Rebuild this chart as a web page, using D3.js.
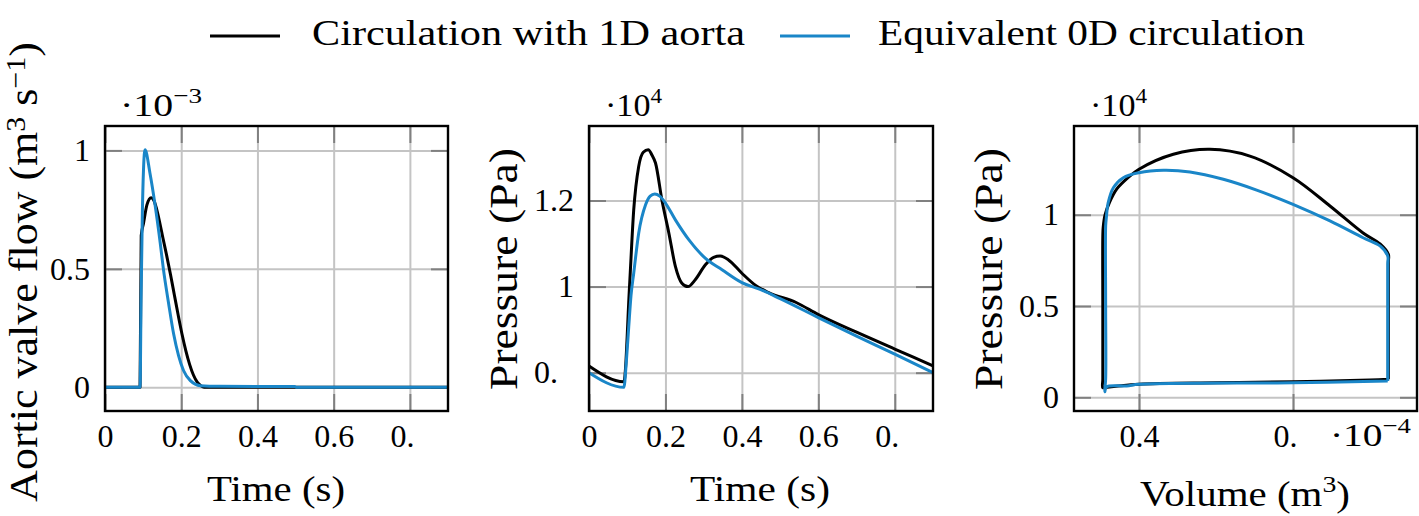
<!DOCTYPE html>
<html>
<head>
<meta charset="utf-8">
<script src="https://cdn.jsdelivr.net/npm/d3@7"></script>
<style>
  body { margin: 0; background: #fff; }
  svg { display: block; font-family: "Liberation Serif", "DejaVu Serif", serif; }
  .grid line { stroke: #c4c4c4; stroke-width: 2; }
  .marks line { stroke: #808080; stroke-width: 2; }
  .grid path, .marks path, .labels path, .labels line { display: none; }
  .labels text { font-family: "Liberation Serif", serif; font-size: 32px; fill: #000; }
  .frame { fill: none; stroke: #000; stroke-width: 2.4; }
  .curve { fill: none; stroke-width: 3; stroke-linejoin: round; }
</style>
</head>
<body>
<svg id="chart" width="1419" height="516"></svg>
<script>
// series
const seriesNames = ['Circulation with 1D aorta', 'Equivalent 0D circulation'];
const seriesColors = ['#000000', '#1a86c8'];

// aortic valve flow (x 1e-3 m^3/s) against time (s)
const flowTime1D = [0, 0.092, 0.095, 0.101, 0.110, 0.121, 0.128, 0.135, 0.143, 0.152, 0.162, 0.172, 0.182, 0.192, 0.202, 0.212, 0.222, 0.232, 0.242, 0.252, 0.260, 0.5, 0.9];
const flow1D     = [0, 0,     0.64,  0.692, 0.770, 0.800, 0.790, 0.755, 0.700, 0.630, 0.555, 0.475, 0.390, 0.305, 0.225, 0.155, 0.097, 0.052, 0.022, 0.006, 0,     0,   0];
const flowTime0D = [0, 0.092, 0.0947, 0.098, 0.101, 0.105, 0.118, 0.132, 0.145, 0.153, 0.167, 0.180, 0.193, 0.206, 0.224, 0.250, 0.300, 0.498, 0.503, 0.9];
const flow0D     = [0, 0,     0.38,   0.735, 0.918, 1.003, 0.904, 0.763, 0.608, 0.502, 0.353, 0.226, 0.134, 0.071, 0.028, 0.007, 0.004, 0.003, 0,     0];

// aortic pressure (x 1e4 Pa) against time (s)
const presTime1D = [0, 0.0913, 0.106, 0.117, 0.130, 0.142, 0.155, 0.165, 0.174, 0.191, 0.209, 0.226, 0.243, 0.259, 0.278, 0.304, 0.326, 0.343, 0.365, 0.400, 0.437, 0.470, 0.542, 0.600, 0.700, 0.800, 0.900];
const pres1D     = [0.8155, 0.779, 1.0, 1.178, 1.279, 1.312, 1.318, 1.305, 1.287, 1.200, 1.124, 1.047, 1.008, 1.000, 1.016, 1.050, 1.068, 1.071, 1.062, 1.031, 1.002, 0.986, 0.963, 0.935, 0.894, 0.855, 0.816];
const presTime0D = [0, 0.0913, 0.098, 0.104, 0.110, 0.117, 0.130, 0.148, 0.160, 0.172, 0.185, 0.200, 0.226, 0.261, 0.304, 0.348, 0.400, 0.446, 0.500, 0.600, 0.700, 0.800, 0.900];
const pres0D     = [0.800, 0.766, 0.830, 0.907, 0.980, 1.031, 1.124, 1.190, 1.210, 1.215, 1.210, 1.194, 1.155, 1.109, 1.066, 1.039, 1.009, 0.994, 0.972, 0.928, 0.885, 0.843, 0.800];

// left ventricle pressure-volume loop: volume (x 1e-4 m^3), pressure (x 1e4 Pa)
const pvVolume1D   = [0.7238, 0.7238, 0.7238, 0.7238, 0.7238, 0.713, 0.691, 0.648, 0.600, 0.544, 0.492, 0.4446, 0.400, 0.385, 0.371, 0.362, 0.356, 0.3535, 0.353, 0.353, 0.353, 0.353, 0.356, 0.370, 0.400, 0.500, 0.600, 0.700, 0.7238];
const pvPressure1D = [0.099,  0.140,  0.450,  0.740,  0.783,  0.840, 0.900, 1.048, 1.203, 1.321, 1.358, 1.331,  1.249, 1.200, 1.140, 1.070, 1.000, 0.930,  0.880, 0.500, 0.100, 0.053, 0.054, 0.060, 0.072, 0.080, 0.085, 0.095, 0.099];
const pvVolume0D   = [0.723, 0.723, 0.723, 0.723, 0.723, 0.713, 0.691, 0.648, 0.600, 0.5528, 0.5095, 0.4662, 0.4316, 0.400, 0.3796, 0.3667, 0.360, 0.3575, 0.3567, 0.3567, 0.3567, 0.3555, 0.358, 0.384, 0.400, 0.600, 0.723];
const pvPressure0D = [0.089, 0.130, 0.450, 0.730, 0.774, 0.829, 0.874, 0.966, 1.057, 1.135,  1.194,  1.234,  1.243,  1.230, 1.203,  1.148,  1.066, 0.980,  0.938,  0.500,  0.100,  0.030,  0.058, 0.062, 0.071, 0.080, 0.089];

// ticks
const timeTicks = [0, 0.2, 0.4, 0.6, 0.8];
const timeTickLabels = ['0', '0.2', '0.4', '0.6', '0.'];
const flowTicks = [0, 0.5, 1];
const flowTickLabels = ['0', '0.5', '1'];
const presTicks = [0.8, 1, 1.2];
const presTickLabels = ['0.', '1', '1.2'];
const volTicks = [0.4, 0.6];
const volTickLabels = ['0.4', '0.'];
const pvPresTicks = [0, 0.5, 1];
const pvPresTickLabels = ['0', '0.5', '1'];

const svg = d3.select('#chart');

// text with optional superscripts, stretched to a given width
function addText(g, parts, o) {
  const text = g.append('text')
      .attr('text-anchor', o.anchor || 'start')
      .style('font-size', o.size + 'px');
  const shift = o.size * (o.supShift || 0.4);
  let raised = false;
  parts.forEach(p => {
    const sup = typeof p === 'object';
    const ts = text.append('tspan').text(sup ? p.sup : p);
    if (sup) ts.style('font-size', (o.size * 0.68) + 'px');
    if (sup !== raised) {
      ts.attr('dy', sup ? -shift : shift);
      raised = sup;
    }
  });
  const w = text.node().getComputedTextLength();
  const sx = o.width ? o.width / w : 1;
  text.attr('transform', `translate(${o.x},${o.y}) rotate(${o.rotate || 0}) scale(${sx},1)`);
  return text;
}

class LinePanel {
  constructor(_config, _series) {
    this.config = _config;
    this.series = _series;
    this.initVis();
    this.renderVis();
  }

  initVis() {
    let vis = this;
    const c = vis.config;
    vis.width = c.right - c.left;
    vis.height = c.bottom - c.top;

    vis.xScale = d3.scaleLinear().domain(c.xDomain).range([0, vis.width]);
    vis.yScale = d3.scaleLinear().domain(c.yDomain).range([vis.height, 0]);

    vis.chart = svg.append('g')
        .attr('transform', `translate(${c.left},${c.top})`);

    // grid
    vis.chart.append('g').attr('class', 'grid')
        .attr('transform', `translate(0,${vis.height})`)
        .call(d3.axisBottom(vis.xScale).tickValues(c.xTicks).tickSize(-vis.height).tickFormat(''));
    vis.chart.append('g').attr('class', 'grid')
        .call(d3.axisLeft(vis.yScale).tickValues(c.yTicks).tickSize(-vis.width).tickFormat(''));

    // tick marks inside the box, on all four sides
    const tl = 17;
    vis.chart.append('g').attr('class', 'marks')
        .attr('transform', `translate(0,${vis.height})`)
        .call(d3.axisBottom(vis.xScale).tickValues(c.xTicks).tickSize(-tl).tickFormat(''));
    vis.chart.append('g').attr('class', 'marks')
        .call(d3.axisTop(vis.xScale).tickValues(c.xTicks).tickSize(-tl).tickFormat(''));
    vis.chart.append('g').attr('class', 'marks')
        .call(d3.axisLeft(vis.yScale).tickValues(c.yTicks).tickSize(-tl).tickFormat(''));
    vis.chart.append('g').attr('class', 'marks')
        .attr('transform', `translate(${vis.width},0)`)
        .call(d3.axisRight(vis.yScale).tickValues(c.yTicks).tickSize(-tl).tickFormat(''));

    // tick labels
    vis.xLab = vis.chart.append('g').attr('class', 'labels')
        .attr('transform', `translate(0,${vis.height})`)
        .call(d3.axisBottom(vis.xScale).tickValues(c.xTicks).tickSize(0).tickPadding(13)
            .tickFormat((d, i) => c.xTickLabels[i]));
    vis.xLab.selectAll('text').filter(function() { return this.textContent.endsWith('.'); })
        .attr('dx', '-0.25em');
    vis.yLab = vis.chart.append('g').attr('class', 'labels')
        .call(d3.axisLeft(vis.yScale).tickValues(c.yTicks).tickSize(0).tickPadding(15)
            .tickFormat((d, i) => c.yTickLabels[i]));
    vis.yLab.selectAll('text').filter(function() { return this.textContent.endsWith('.'); })
        .attr('dx', '-0.5em');

    vis.curves = vis.chart.append('g');

    vis.chart.append('rect').attr('class', 'frame')
        .attr('width', vis.width).attr('height', vis.height);

    // axis titles and scale factors
    addText(vis.chart, c.xLabel.parts, {x: c.xLabel.x - c.left, y: c.xLabel.y - c.top,
      anchor: 'middle', size: 35, width: c.xLabel.width});
    addText(vis.chart, c.yLabel.parts, {x: c.yLabel.x - c.left, y: c.yLabel.y - c.top,
      anchor: 'middle', size: 41, width: c.yLabel.width, rotate: -90, supShift: 0.3});
    c.factors.forEach(f => {
      addText(vis.chart, f.parts, {x: f.x - c.left, y: f.y - c.top, size: 32, width: f.width});
    });
  }

  renderVis() {
    let vis = this;
    const line = d3.line()
        .x(d => vis.xScale(d[0]))
        .y(d => vis.yScale(d[1]))
        .curve(vis.config.curve);

    vis.curves.selectAll('.curve')
        .data(vis.series)
        .join('path')
        .attr('class', 'curve')
        .attr('stroke', (d, i) => seriesColors[i])
        .attr('d', d => line(d));
  }
}

const zipPts = (xs, ys) => xs.map((x, i) => [x, ys[i]]);

new LinePanel({
  left: 105, right: 448, top: 126, bottom: 411,
  xDomain: [0, 0.9], yDomain: [-0.1, 1.103],
  xTicks: timeTicks, xTickLabels: timeTickLabels,
  yTicks: flowTicks, yTickLabels: flowTickLabels,
  curve: d3.curveMonotoneX,
  xLabel: {parts: ['Time (s)'], x: 276, y: 501, width: 138},
  yLabel: {parts: ['Aortic valve flow (m', {sup: '3'}, ' s', {sup: '\u22121'}, ')'], x: 37, y: 272, width: 460},
  factors: [{parts: ['\u00b710', {sup: '\u22123'}], x: 120, y: 116, width: 82}]
}, [zipPts(flowTime1D, flow1D), zipPts(flowTime0D, flow0D)]);

new LinePanel({
  left: 589, right: 933, top: 126, bottom: 411,
  xDomain: [0, 0.9], yDomain: [0.711, 1.373],
  xTicks: timeTicks, xTickLabels: timeTickLabels,
  yTicks: presTicks, yTickLabels: presTickLabels,
  curve: d3.curveMonotoneX,
  xLabel: {parts: ['Time (s)'], x: 760, y: 501, width: 140},
  yLabel: {parts: ['Pressure (Pa)'], x: 517, y: 269, width: 242},
  factors: [{parts: ['\u00b710', {sup: '4'}], x: 605, y: 116, width: 57}]
}, [zipPts(presTime1D, pres1D), zipPts(presTime0D, pres0D)]);

new LinePanel({
  left: 1074, right: 1417, top: 126, bottom: 411,
  xDomain: [0.3156, 0.761], yDomain: [-0.075, 1.486],
  xTicks: volTicks, xTickLabels: volTickLabels,
  yTicks: pvPresTicks, yTickLabels: pvPresTickLabels,
  curve: d3.curveCatmullRom.alpha(0.5),
  xLabel: {parts: ['Volume (m', {sup: '3'}, ')'], x: 1245, y: 506, width: 210},
  yLabel: {parts: ['Pressure (Pa)'], x: 1002, y: 269, width: 242},
  factors: [
    {parts: ['\u00b710', {sup: '4'}], x: 1090, y: 116, width: 57},
    {parts: ['\u00b710', {sup: '\u22124'}], x: 1330, y: 446, width: 81}
  ]
}, [zipPts(pvVolume1D, pvPressure1D), zipPts(pvVolume0D, pvPressure0D)]);

// legend
const legend = svg.append('g').attr('class', 'legend');
const legendItems = [{x0: 210, x1: 280, tx: 312, width: 433}, {x0: 780, x1: 850, tx: 878, width: 427}];
seriesNames.forEach((name, i) => {
  const it = legendItems[i];
  legend.append('line')
      .attr('x1', it.x0).attr('x2', it.x1).attr('y1', 36).attr('y2', 36)
      .attr('stroke', seriesColors[i]).attr('stroke-width', 3);
  addText(legend, [name], {x: it.tx, y: 45, size: 36, width: it.width});
});
</script>
</body>
</html>
